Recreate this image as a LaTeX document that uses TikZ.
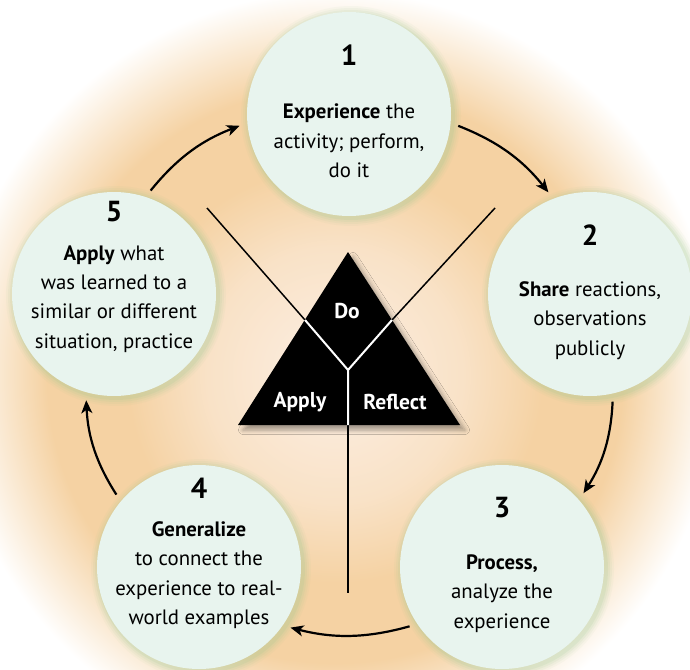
\documentclass[tikz,border=0pt]{standalone}
\usepackage{fontspec}
\setmainfont{PT Sans}
\usetikzlibrary{arrows.meta,shadows.blur}

\definecolor{mint}{HTML}{E8F4EE}
\definecolor{leaf}{HTML}{8CC68A}
\definecolor{peach}{HTML}{F5D2A3}
\definecolor{cream}{HTML}{FCEFE4}

\pgfdeclareradialshading{warmglow}{\pgfpoint{0bp}{0bp}}{color(0bp)=(cream); color(8bp)=(cream!55!peach); color(13bp)=(peach); color(18bp)=(peach); color(24bp)=(white); color(25bp)=(white); color(50bp)=(white)}

\tikzset{
  stage/.style={circle, fill=mint, minimum size=204pt, inner sep=0pt},
  num/.style={font=\bfseries\fontsize{29}{29}\selectfont},
  body/.style={align=center, font=\fontsize{20.8}{29.3}\selectfont},
  flow/.style={-{Stealth[length=13pt,width=11pt,inset=3.5pt]}, line width=2.2pt, bend left=15, shorten <=8pt, shorten >=8pt},
  part/.style={text=white, font=\bfseries\fontsize{21.5}{21.5}\selectfont},
}

\begin{document}
\begin{tikzpicture}[x=1pt,y=-1pt]
    \useasboundingbox (0,0) rectangle (690,669);

    % Background glow
    \begin{scope}
        \clip (0,0) rectangle (690,669);
        \fill [white] (0,0) rectangle (690,669);
        \shade [shading=warmglow] (335,375) circle [radius=400pt];
    \end{scope}

    % Green halo behind the stages
    \foreach \cx/\cy in {349/114, 590/294, 502/567, 199/567, 114/294}
        \foreach \d/\o in {8/0.05, 6/0.07, 4/0.09, 2/0.12}
            \fill [leaf, opacity=\o] (\cx+2,\cy+2) circle [radius=102pt+\d pt];

    % Stages
    \node [stage] (exp) at (349,114) {};
    \node [stage] (share) at (590,294) {};
    \node [stage] (proc) at (502,567) {};
    \node [stage] (gen) at (199,567) {};
    \node [stage] (apply) at (114,294) {};

    \node [num] (n1) at (349,55.5) {1};
    \node [body] (t1) at (349,141) {\textbf{Experience} the\\activity; perform,\\do it};
    \node [num] (n2) at (590,235) {2};
    \node [body] (t2) at (590,320.5) {\textbf{Share} reactions,\\observations\\publicly};
    \node [num] (n3) at (502,508) {3};
    \node [body] (t3) at (502,593.5) {\textbf{Process,}\\analyze the\\experience};
    \node [num] (n4) at (199,488.5) {4};
    \node [body] (t4) at (199,575) {\textbf{Generalize}\\to connect the\\experience to real-\\world examples};
    \node [num] (n5) at (114,212) {5};
    \node [body] (t5) at (114,299) {\textbf{Apply} what\\was learned to a\\similar or different\\situation, practice};

    % Cycle arrows
    \draw [flow] (apply.72) to (exp.185);
    \draw [flow] (exp.-5) to (share.111);
    \draw [flow] (share.-77) to (proc.41);
    \draw [flow] (proc.214) to (gen.-35);
    \draw [flow] (gen.140) to (apply.254);

    % Do / Reflect / Apply triangle
    \coordinate (top) at (348,252);
    \coordinate (bl) at (238,425);
    \coordinate (br) at (460,425);
    \coordinate (jc) at (348,370);
    \coordinate (jl) at (305,320);
    \coordinate (jr) at (392,320);
    \coordinate (jb) at (348,425);
    \coordinate (el) at (207,208);
    \coordinate (er) at (495,208);
    \coordinate (eb) at (348,593);
    \fill [black, blur shadow={shadow xshift=5pt, shadow yshift=-5pt, shadow blur radius=4.5pt, shadow opacity=35}] (top) -- (br) -- (bl) -- cycle;

    \draw [line width=1.5pt] (jl) -- (el);
    \draw [line width=1.5pt] (jr) -- (er);
    \draw [line width=1.5pt] (jb) -- (eb);
    \draw [white, line width=2pt] (jl) -- (jc) -- (jr) (jc) -- (jb);

    \node [part] (doL) at (347,311) {Do};
    \node [part] (applyL) at (300,402) {Apply};
    \node [part] (reflL) at (395,402) {Reflect};
\end{tikzpicture}
\end{document}
